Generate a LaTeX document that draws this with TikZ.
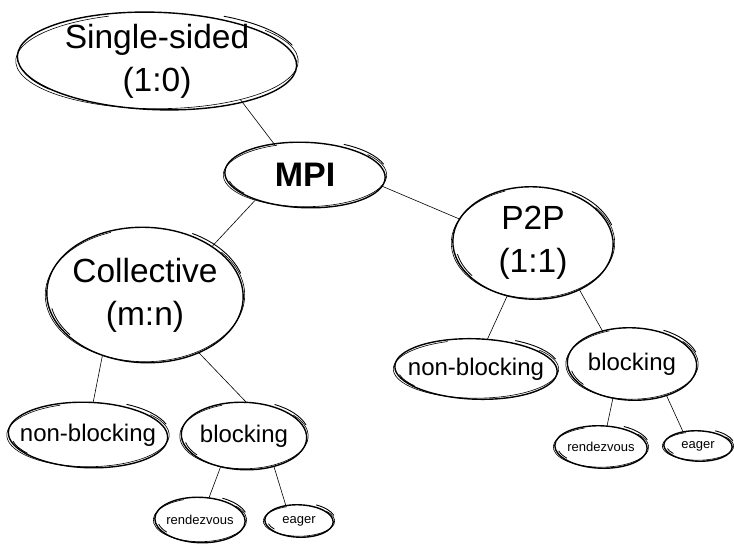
\documentclass[tikz,border=0pt]{standalone}
\usepackage{fontspec}
\setmainfont{Liberation Sans}
\usetikzlibrary{calc}
\usetikzlibrary{shapes.geometric}

% anello disegnato a mano attorno a un nodo
\newcommand{\sketchring}[1]{%
  \draw[line width=1.4pt] let \p1=($(#1.east)-(#1.center)$), \p2=($(#1.north)-(#1.center)$) in
    (#1.center) ellipse[x radius=\x1, y radius=\y2, rotate=-2];
  \draw[line width=0.6pt] let \p1=($(#1.east)-(#1.center)$), \p2=($(#1.north)-(#1.center)$),
      \p3=(\x1+1.5pt,\y2-1pt) in
    ($(#1.center)+(110:\x3 and \y3)$) arc[start angle=110, end angle=400, x radius=\x3, y radius=\y3];
  \draw[line width=0.9pt] let \p1=($(#1.east)-(#1.center)$), \p2=($(#1.north)-(#1.center)$),
      \p3=(\x1+2.5pt,\y2+2pt) in
    ($(#1.center)+(18:\x3 and \y3)$) arc[start angle=18, end angle=62, x radius=\x3, y radius=\y3];
  \draw[line width=0.8pt] let \p1=($(#1.east)-(#1.center)$), \p2=($(#1.north)-(#1.center)$),
      \p3=(\x1-3pt,\y2-3pt) in
    ($(#1.center)+(192:\x3 and \y3)$) arc[start angle=192, end angle=218, x radius=\x3, y radius=\y3];
}

\begin{document}
\begin{tikzpicture}[x=1pt, y=-1pt,
  bubble/.style={ellipse, inner sep=-14pt},
  bigtext/.style={align=center, font=\fontsize{33.5}{43}\selectfont},
  midtext/.style={font=\fontsize{24}{28}\selectfont},
  tinytext/.style={font=\fontsize{13}{15}\selectfont},
  branch/.style={line width=0.6pt}]
  \useasboundingbox (0,0) rectangle (734,545);

  % Nodi principali
  \node[bubble, bigtext, minimum width=279pt, minimum height=97pt] (single) at (157,61) {Single-sided\\(1:0)};
  \node[bubble, font=\fontsize{34}{43}\selectfont\bfseries, minimum width=160pt, minimum height=65pt] (mpi) at (305,175) {MPI};
  \node[bubble, bigtext, minimum width=160pt, minimum height=112pt] (p2p) at (533,243) {P2P\\(1:1)};
  \node[bubble, bigtext, minimum width=196pt, minimum height=135pt] (coll) at (145,295) {Collective\\(m:n)};

  % Ramo collettivo
  \node[bubble, midtext, minimum width=159pt, minimum height=65pt] (nbl) at (88,435) {non-blocking};
  \node[bubble, midtext, minimum width=125pt, minimum height=67pt] (bll) at (244,436) {blocking};
  \node[bubble, tinytext, minimum width=90pt, minimum height=45pt] (rvl) at (200,520) {rendezvous};
  \node[bubble, tinytext, minimum width=68pt, minimum height=32pt] (egl) at (299,521) {eager};

  % Ramo punto-punto
  \node[bubble, midtext, minimum width=162pt, minimum height=60pt] (nbr) at (476,369) {non-blocking};
  \node[bubble, midtext, minimum width=129pt, minimum height=72pt] (blr) at (632,364) {blocking};
  \node[bubble, tinytext, minimum width=92pt, minimum height=42pt] (rvr) at (601,447) {rendezvous};
  \node[bubble, tinytext, minimum width=68pt, minimum height=30pt] (egr) at (698,446) {eager};

  % Anelli
  \foreach \nd in {single,mpi,p2p,coll,nbl,bll,rvl,egl,nbr,blr,rvr,egr}
    \sketchring{\nd};

  % Collegamenti
  \draw[branch] (single.-25) -- (mpi.135);
  \draw[branch] (mpi.-153) -- (coll.36);
  \draw[branch] (mpi.-8) -- (p2p.162);
  \draw[branch] (coll.-125) -- (nbl.81);
  \draw[branch] (coll.-47) -- (bll.86);
  \draw[branch] (bll.-127) -- (rvl.68);
  \draw[branch] (bll.-45) -- (egl.131);
  \draw[branch] (p2p.-116) -- (nbr.69);
  \draw[branch] (p2p.-45) -- (blr.132);
  \draw[branch] (blr.-119) -- (rvr.74);
  \draw[branch] (blr.-42) -- (egr.137);
\end{tikzpicture}
\end{document}
